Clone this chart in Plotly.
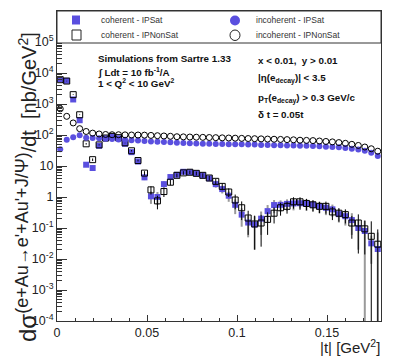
import plotly.graph_objects as go

# bin centres |t| (GeV^2)
t = [0.0018 + 0.0036 * i for i in range(50)]

coh_ipsat = [5900, 5600, 1400, 300, 11, 8.6, 45, 78, 88, 78, 52, 28, 14, 4.3, 1.05, 1.0,
             2.6, 4.4, 5.2, 6.5, 6.3, 5.8, 5.0, 4.0, 2.6, 1.8, 1.1, 0.56, 0.27, 0.15,
             0.13, 0.2, 0.35, 0.55, 0.56, 0.6, 0.62, 0.63, 0.6, 0.56, 0.5, 0.45, 0.4,
             0.28, 0.24, 0.18, 0.10, 0.08, 0.032, 0.021]
coh_ipsat_err = [100, 100, 40, 10, 1, 1, 2, 3, 3, 3, 2, 1.5, 1, 0.8, 0.45, 0.45,
                 0.6, 0.7, 0.7, 0.8, 0.8, 0.8, 0.8, 0.7, 0.6, 0.5, 0.4, 0.28, 0.16, 0.1,
                 0.11, 0.14, 0.2, 0.25, 0.22, 0.24, 0.25, 0.25, 0.24, 0.22, 0.2, 0.19, 0.17,
                 0.13, 0.12, 0.12, 0.08, 0.09, 0.025, 0.05]
coh_ipnonsat = [6100, 5500, 2000, 450, 52, 16, 48, 80, 90, 82, 56, 31, 15, 5.9, 1.7, 0.75,
                1.5, 3.0, 5.0, 6.0, 6.3, 5.8, 5.0, 4.1, 3.2, 2.2, 1.45, 0.8, 0.45, 0.21,
                0.135, 0.145, 0.19, 0.3, 0.45, 0.5, 0.7, 0.7, 0.62, 0.56, 0.5, 0.5, 0.33,
                0.3, 0.27, 0.145, 0.145, 0.094, 0.054, 0.03]
coh_ipnonsat_err = [100, 100, 50, 12, 3, 1.5, 2, 3, 3, 3, 2, 1.5, 1, 0.9, 0.5, 0.35,
                    0.5, 0.6, 0.7, 0.8, 0.8, 0.8, 0.8, 0.7, 0.6, 0.55, 0.45, 0.4, 0.27, 0.15,
                    0.115, 0.12, 0.13, 0.16, 0.2, 0.21, 0.28, 0.28, 0.25, 0.22, 0.2, 0.21, 0.15,
                    0.14, 0.13, 0.1, 0.13, 0.08, 0.11, 0.06]
inc_ipsat = [35, 70, 85, 98, 82, 80, 78, 76, 74, 72, 70, 68, 66, 64, 62, 61, 60, 58, 56, 55,
             54, 53, 52, 52, 51, 51, 50, 50, 50, 49, 49, 48, 48, 47, 47, 46, 46, 45, 45, 44,
             43, 42, 41, 40, 38, 36, 34, 31, 27, 21]
inc_ipnonsat = [700, 400, 245, 160, 130, 115, 108, 104, 102, 102, 101, 100, 100, 99, 97, 95,
                93, 91, 88, 87, 86, 85, 84, 83, 82, 81, 80, 79, 78, 77, 76, 75, 74, 73, 72,
                71, 70, 68, 67, 66, 64, 62, 60, 57, 54, 50, 46, 41, 36, 30]

ytick_vals = [1e-4, 1e-3, 1e-2, 1e-1, 1, 10, 1e2, 1e3, 1e4, 1e5]
ytick_text = ["10<sup>-4</sup>", "10<sup>-3</sup>", "10<sup>-2</sup>", "10<sup>-1</sup>", "1", "10",
              "10<sup>2</sup>", "10<sup>3</sup>", "10<sup>4</sup>", "10<sup>5</sup>"]
xtick_vals = [0, 0.05, 0.1, 0.15]
xtick_text = ["0", "0.05", "0.1", "0.15"]
legend_names = ["coherent - IPSat", "incoherent - IPSat", "coherent - IPNonSat", "incoherent - IPNonSat"]

BLUE = "#5a4fdf"
FONT = "Liberation Sans, Arial, sans-serif"

# plot-area geometry (pixels) used to place paper-referenced decorations
L, R, T, B = 49, 373, 3, 313
def px(xp):
    return (xp - L) / (R - L)
def py(yp):
    return (B - yp) / (B - T)

fig = go.Figure()
fig.add_trace(go.Scatter(
    x=t, y=coh_ipsat, mode="markers", name=legend_names[0], showlegend=False,
    marker=dict(symbol="square", size=6, color=BLUE, line=dict(width=0)),
    error_y=dict(type="data", array=coh_ipsat_err, color="#9a9a9a", thickness=2, width=0)))
fig.add_trace(go.Scatter(
    x=t, y=coh_ipnonsat, mode="markers", name=legend_names[2], showlegend=False,
    marker=dict(symbol="square-open", size=6, color="black", line=dict(width=1)),
    error_y=dict(type="data", array=coh_ipnonsat_err, color="black", thickness=1, width=0)))
fig.add_trace(go.Scatter(
    x=t, y=inc_ipsat, mode="markers", name=legend_names[1], showlegend=False,
    marker=dict(symbol="circle", size=6, color=BLUE, line=dict(width=0))))
fig.add_trace(go.Scatter(
    x=t, y=inc_ipnonsat, mode="markers", name=legend_names[3], showlegend=False,
    marker=dict(symbol="circle-open", size=6, color="black", line=dict(width=1))))

minor_y = [k * 10 ** n for n in range(-4, 6) for k in range(2, 10)]

fig.update_layout(
    width=415, height=357,
    margin=dict(l=L, r=415 - R, t=T, b=357 - B),
    paper_bgcolor="white", plot_bgcolor="white",
    font=dict(family=FONT, color="#222"),
    showlegend=False,
    xaxis=dict(range=[0, 0.18], tickmode="array", tickvals=xtick_vals, ticktext=xtick_text,
               ticks="inside", ticklen=6, tickcolor="#333", showgrid=False, zeroline=False,
               showline=True, linecolor="#333", linewidth=1, mirror=True,
               tickfont=dict(size=12.5, color="#222"),
               minor=dict(ticks="inside", ticklen=3, dtick=0.01, tickcolor="#333", showgrid=False)),
    yaxis=dict(type="log", range=[-4, 6], tickmode="array", tickvals=ytick_vals, ticktext=ytick_text,
               ticks="inside", ticklen=10, tickcolor="#333", showgrid=False, zeroline=False,
               showline=True, linecolor="#333", linewidth=1, mirror=True,
               tickfont=dict(size=12.5, color="#222"),
               minor=dict(ticks="inside", ticklen=5, tickmode="array", tickvals=minor_y,
                          tickcolor="#333", showgrid=False)),
)

# legend box (drawn by hand, ROOT-style)
shapes = [
    dict(type="rect", xref="paper", yref="paper", x0=px(49), x1=px(373), y0=py(35), y1=py(3),
         fillcolor="white", line=dict(color="#333", width=1), layer="above"),
    dict(type="rect", xref="paper", yref="paper", x0=px(64), x1=px(72), y0=py(16.5), y1=py(7.5),
         fillcolor=BLUE, line=dict(width=0), layer="above"),
    dict(type="rect", xref="paper", yref="paper", x0=px(64), x1=px(73), y0=py(32), y1=py(22),
         fillcolor="white", line=dict(color="#222", width=1), layer="above"),
    dict(type="circle", xref="paper", yref="paper", x0=px(222), x1=px(232), y0=py(17.5), y1=py(7.5),
         fillcolor=BLUE, line=dict(width=0), layer="above"),
    dict(type="circle", xref="paper", yref="paper", x0=px(222), x1=px(232), y0=py(32.5), y1=py(22),
         fillcolor="white", line=dict(color="#222", width=1), layer="above"),
]
fig.update_layout(shapes=shapes)

ann = []
leg_pos = [(90.5, 12.5), (246, 12.5), (90.5, 27.5), (246, 27.5)]
for name, (lx, ly) in zip(legend_names, leg_pos):
    ann.append(dict(text=name, xref="paper", yref="paper", x=px(lx), y=py(ly),
                    xanchor="left", yanchor="middle", showarrow=False,
                    font=dict(size=8.5, color="#333")))

ann.append(dict(text="<span style='font-size:24px'>dσ</span><sup><span style='font-size:18px'>(e+Au→e'+Au'+J/Ψ)</span></sup>/dt  [nb/GeV<sup>2</sup>]",
                textangle=-90, xref="paper", yref="paper", x=px(18), y=py(179),
                xanchor="center", yanchor="middle", showarrow=False, font=dict(size=20, color="#222")))
ann.append(dict(text="|t| [GeV<sup>2</sup>]", xref="paper", yref="paper", x=px(374), y=py(338),
                xanchor="right", yanchor="middle", showarrow=False, font=dict(size=15, color="#222")))
bold = dict(size=9.8, color="#111", family=FONT)
lines_left = [("Simulations from Sartre 1.33", 50),
              ("∫ Ldt = 10 fb<sup>-1</sup>/A", 64),
              ("1 < Q<sup>2</sup> < 10 GeV<sup>2</sup>", 75)]
for txt, yy in lines_left:
    ann.append(dict(text="<b>" + txt + "</b>", xref="paper", yref="paper", x=px(88), y=py(yy),
                    xanchor="left", yanchor="middle", showarrow=False, font=bold))
lines_right = [("x < 0.01,  y > 0.01", 52),
               ("|η(e<sub>decay</sub>)| < 3.5", 70),
               ("p<sub>T</sub>(e<sub>decay</sub>) > 0.3 GeV/c", 90),
               ("δ t = 0.05t", 107)]
for txt, yy in lines_right:
    ann.append(dict(text="<b>" + txt + "</b>", xref="paper", yref="paper", x=px(248), y=py(yy),
                    xanchor="left", yanchor="middle", showarrow=False, font=bold))
fig.update_layout(annotations=ann)

fig.write_html("out.html")
